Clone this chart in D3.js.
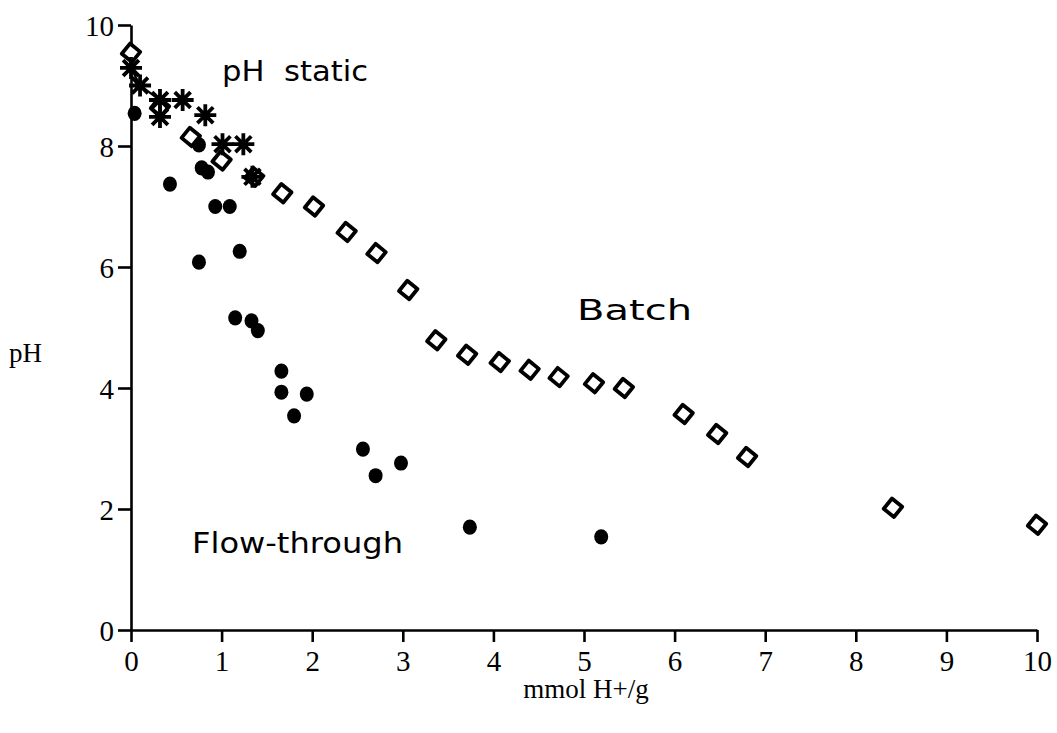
<!DOCTYPE html>
<html>
<head>
<meta charset="utf-8">
<script src="https://cdn.jsdelivr.net/npm/d3@7"></script>
<style>
  html, body { margin: 0; padding: 0; background: #fff; }
  svg { display: block; }
</style>
</head>
<body>
<svg id="chart" width="1057" height="733"></svg>
<script>
// Acid titration of the solid: pH versus added acid (mmol H+/g)
const xTicks = [0, 1, 2, 3, 4, 5, 6, 7, 8, 9, 10];
const yTicks = [0, 2, 4, 6, 8, 10];

// Batch titration (open diamonds)
const batchX = [0, 0.32, 0.66, 1.0, 1.36, 1.67, 2.02, 2.38, 2.71, 3.06, 3.37, 3.71, 4.07, 4.40, 4.72, 5.11, 5.44, 6.10, 6.47, 6.80, 8.41, 10.0];
const batchY = [9.54, 8.64, 8.15, 7.76, 7.49, 7.22, 7.0, 6.58, 6.23, 5.62, 4.79, 4.55, 4.43, 4.30, 4.18, 4.08, 4.0, 3.57, 3.24, 2.86, 2.02, 1.74];

// pH-static titration (asterisks)
const staticX = [0, 0.1, 0.32, 0.32, 0.57, 0.82, 1.01, 1.24, 1.34];
const staticY = [9.29, 9.0, 8.76, 8.48, 8.76, 8.51, 8.03, 8.03, 7.49];

// Flow-through column (filled dots)
const flowX = [0.04, 0.75, 0.78, 0.85, 0.43, 0.93, 1.09, 0.75, 1.2, 1.15, 1.33, 1.40, 1.66, 1.66, 1.94, 1.80, 2.56, 2.70, 2.98, 3.74, 5.19];
const flowY = [8.54, 8.02, 7.64, 7.57, 7.37, 7.0, 7.0, 6.08, 6.26, 5.16, 5.11, 4.95, 4.28, 3.93, 3.90, 3.54, 2.99, 2.55, 2.76, 1.70, 1.54];

const svg = d3.select("#chart");
const x = d3.scaleLinear().domain([0, 10]).range([131, 1037]);
const y = d3.scaleLinear().domain([0, 10]).range([630, 25]);

const serif = "'Liberation Serif', 'Times New Roman', serif";
const sans = "'DejaVu Sans', Geneva, Verdana, sans-serif";

// Axes
const xAxis = svg.append("g")
  .attr("transform", `translate(0,${y(0)})`)
  .call(d3.axisBottom(x).tickValues(xTicks).tickFormat(d3.format("d")).tickSize(12).tickSizeOuter(0).tickPadding(8));
const yAxis = svg.append("g")
  .attr("transform", `translate(${x(0)},0)`)
  .call(d3.axisLeft(y).tickValues(yTicks).tickFormat(d3.format("d")).tickSize(13).tickSizeOuter(0).tickPadding(4));

[xAxis, yAxis].forEach(g => {
  g.select(".domain").attr("stroke", "#000").attr("stroke-width", 2.6);
  g.selectAll(".tick line").attr("stroke", "#000").attr("stroke-width", 2.6);
  g.selectAll(".tick text").attr("fill", "#000").style("font-family", serif).style("font-size", "29px");
});
xAxis.selectAll(".tick text").attr("dy", "0.72em");
yAxis.selectAll(".tick text").attr("dy", "0.35em");

// Axis titles
svg.append("text").attr("x", 586).attr("y", 698).attr("text-anchor", "middle")
  .style("font-family", serif).style("font-size", "27px").text("mmol H+/g");
svg.append("text").attr("x", 9).attr("y", 362)
  .style("font-family", serif).style("font-size", "27px").text("pH");

// Series labels (wide lettering, stretched to their set widths)
const labels = [
  { t: "pH  static", x: 222, y: 81, w: 146 },
  { t: "Batch", x: 577, y: 320, w: 115 },
  { t: "Flow-through", x: 192, y: 553, w: 211 }
];
svg.append("g").selectAll("text").data(labels).join("text")
  .attr("x", d => d.x).attr("y", d => d.y)
  .attr("textLength", d => d.w).attr("lengthAdjust", "spacingAndGlyphs")
  .style("font-family", sans).style("font-size", "29px")
  .style("white-space", "pre")
  .text(d => d.t);

// Short joining line through the first pH-static points
svg.append("path")
  .attr("d", d3.line().x(i => x(staticX[i])).y(i => y(staticY[i]))([0, 1, 2]))
  .attr("fill", "none").attr("stroke", "#000").attr("stroke-width", 2.2);

// Flow-through: filled dots
svg.append("g").selectAll("ellipse").data(flowX.map((v, i) => [v, flowY[i]])).join("ellipse")
  .attr("cx", d => x(d[0])).attr("cy", d => y(d[1]))
  .attr("rx", 7).attr("ry", 7.6).attr("fill", "#000");

// Batch: open diamonds
const s = 9.3;
svg.append("g").selectAll("path").data(batchX.map((v, i) => [v, batchY[i]])).join("path")
  .attr("d", `M0,${-s}L${s},0L0,${s}L${-s},0Z`)
  .attr("transform", d => `translate(${x(d[0])},${y(d[1])}) rotate(-6)`)
  .attr("fill", "#fff").attr("stroke", "#000").attr("stroke-width", 3.8)
  .attr("stroke-linejoin", "round");

// pH static: asterisks
const a = 11;
const starPath = `M${-a},0H${a}M0,${-a}V${a}M${-a * 0.72},${-a * 0.72}L${a * 0.72},${a * 0.72}M${-a * 0.72},${a * 0.72}L${a * 0.72},${-a * 0.72}`;
svg.append("g").selectAll("path").data(staticX.map((v, i) => [v, staticY[i]])).join("path")
  .attr("d", starPath)
  .attr("transform", d => `translate(${x(d[0])},${y(d[1])})`)
  .attr("fill", "none").attr("stroke", "#000").attr("stroke-width", 3.8);
</script>
</body>
</html>
